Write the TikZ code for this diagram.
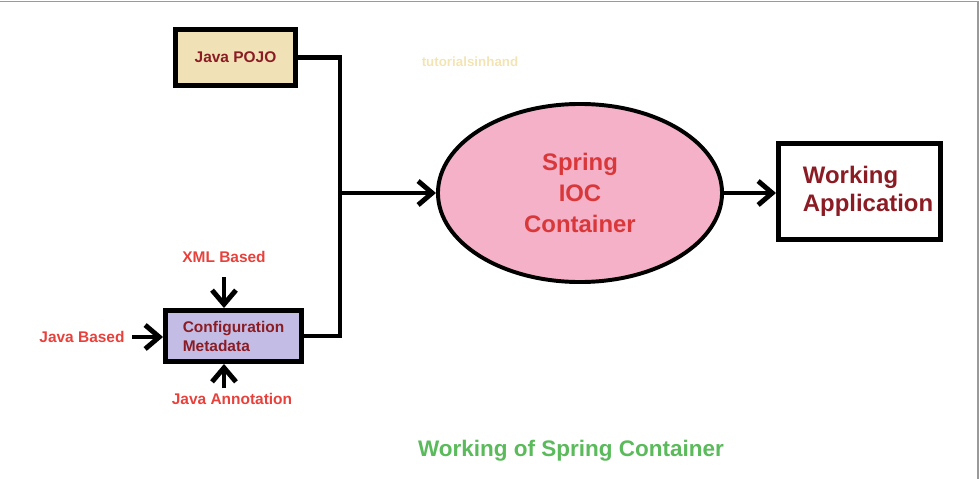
\documentclass[tikz,border=0pt]{standalone}
\usepackage{fontspec}
\setmainfont{Liberation Sans}
\usetikzlibrary{arrows.meta, positioning, shapes.geometric, calc}
\definecolor{pojoBeige}{HTML}{F0E2B6}
\definecolor{metaLilac}{HTML}{C3BDE6}
\definecolor{iocPink}{HTML}{F4B1C8}
\definecolor{boxRed}{HTML}{8B1C24}
\definecolor{labelRed}{HTML}{E8413C}
\definecolor{iocRed}{HTML}{D9383A}
\definecolor{titleGreen}{HTML}{5BBA5B}
\definecolor{markBeige}{HTML}{F3E4B5}
\definecolor{frameGray}{HTML}{9A9A9A}

\begin{document}
\begin{tikzpicture}[x=0.025cm, y=-0.025cm,
  box/.style={draw, line width=3.5pt, inner sep=0pt, text=boxRed,
              font=\fontsize{11}{13.5}\selectfont\bfseries},
  srcLabel/.style={text=labelRed, font=\fontsize{11}{13}\selectfont\bfseries},
  wire/.style={line width=3.5pt},
  flow/.style={line width=3.5pt, -{Straight Barb[length=10pt, width=17pt]}}]
  \useasboundingbox (0,0) rectangle (980,479);
  \draw[frameGray, line width=1.4pt] (0,1.5) -- (978,1.5) -- (978,479);

  % inputs
  \node[box, fill=pojoBeige, minimum width=3cm, minimum height=1.4cm] (pojo) at (235.5,57.5) {Java POJO};
  \node[box, fill=metaLilac, minimum width=3.4cm, minimum height=1.275cm, align=left] (config) at (233.5,336) {Configuration\\Metadata};
  \node[srcLabel] (xml) at (224,257) {XML Based};
  \node[srcLabel] (javaBased) at (82,337) {Java Based};
  \node[srcLabel] (annot) at (232,399) {Java Annotation};

  % container and result
  \node[ellipse, draw, line width=2.8pt, fill=iocPink, inner sep=0pt, minimum width=7.1cm, minimum height=4.45cm,
        align=center, text=iocRed, font=\fontsize{17}{22}\selectfont\bfseries] (ioc) at (580,193) {Spring\\IOC\\Container};
  \node[box, fill=white, minimum width=4.05cm, minimum height=2.4cm] (app) at (859.5,191.5) {};
  \node[anchor=west, align=left, text=boxRed, font=\fontsize{17}{20}\selectfont\bfseries] (appText) at (798,191) {Working\\Application};

  \node[text=markBeige, font=\fontsize{9.5}{11}\selectfont\bfseries] (mark) at (470,62) {tutorialsinhand};
  \node[text=titleGreen, font=\fontsize{16}{19}\selectfont\bfseries] (title) at (571,451) {Working of Spring Container};

  % connectors
  \coordinate (bus) at (340,193);
  \draw[wire] (pojo.east) -| (bus) |- (config.east);
  \draw[flow] (bus) -- (ioc.west);
  \draw[flow] (ioc.east) -- (app.west |- ioc.east);
  \draw[flow, shorten <=7pt] (xml.south) -- (xml.south |- config.north);
  \draw[flow, shorten <=2pt] (javaBased.east) -- (javaBased.east -| config.west);
  \draw[flow] (xml.south |- annot.north) -- (xml.south |- config.south);
\end{tikzpicture}
\end{document}
